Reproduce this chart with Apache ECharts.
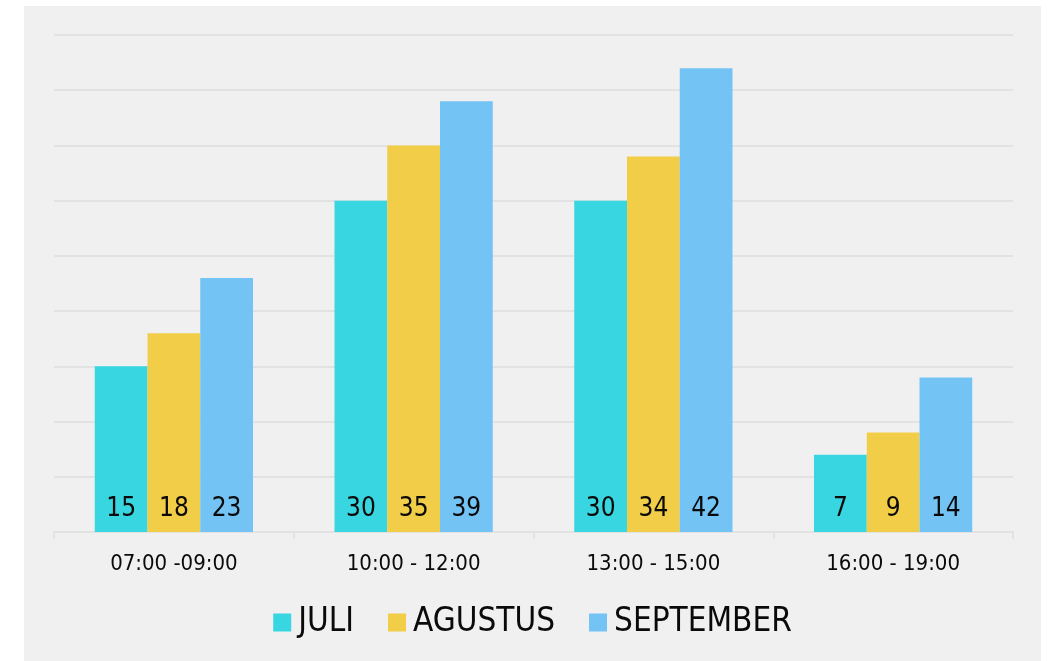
<!DOCTYPE html>
<html>
<head>
<meta charset="utf-8">
<script src="https://cdn.jsdelivr.net/npm/echarts@6/dist/echarts.min.js"></script>
<style>
	html, body { margin: 0; padding: 0; background: #fff; }
	#chart { position: absolute; left: 24px; top: 6px; width: 1017px; height: 655px; background: #f0f0f0; }
</style>
</head>
<body>
<div id="chart"></div>
<script>
const categories = ['07:00 -09:00', '10:00 - 12:00', '13:00 - 15:00', '16:00 - 19:00'];
const juli = [15, 30, 30, 7];
const agustus = [18, 35, 34, 9];
const september = [23, 39, 42, 14];

const condensed = '"DejaVu Sans Condensed", "DejaVu Sans", sans-serif';
const narrow = '"Liberation Sans Narrow", "DejaVu Sans Condensed", sans-serif';

const myChart = echarts.init(document.getElementById('chart'));

function barSeries(name, data, color) {
	return {
		name: name,
		type: 'bar',
		data: data,
		barGap: 0,
		barCategoryGap: '34%',
		itemStyle: { color: color },
		label: {
			show: true,
			position: 'insideBottom',
			distance: 10,
			color: '#0a0a0a',
			fontSize: 26,
			fontFamily: narrow
		}
	};
}

myChart.setOption({
	backgroundColor: '#f0f0f0',
	animation: false,
	grid: { left: 30, right: 28, top: 29, bottom: 129 },
	legend: {
		bottom: 17,
		itemWidth: 18,
		itemHeight: 18,
		itemGap: 34,
		icon: 'rect',
		textStyle: { fontSize: 33, color: '#0a0a0a', fontFamily: narrow, padding: [0, 0, 0, 2] },
		data: ['JULI', 'AGUSTUS', 'SEPTEMBER']
	},
	xAxis: {
		type: 'category',
		data: categories,
		axisLine: { lineStyle: { color: '#e2e2e2', width: 2 } },
		axisTick: { show: true, length: 7, lineStyle: { color: '#e2e2e2', width: 2 } },
		axisLabel: { fontSize: 22, color: '#0a0a0a', fontFamily: condensed, margin: 21 }
	},
	yAxis: {
		type: 'value',
		min: 0,
		max: 45,
		interval: 5,
		axisLabel: { show: false },
		axisLine: { show: false },
		axisTick: { show: false },
		splitLine: { lineStyle: { color: '#e2e2e2', width: 2 } }
	},
	series: [
		barSeries('JULI', juli, '#38d6e0'),
		barSeries('AGUSTUS', agustus, '#f2cd47'),
		barSeries('SEPTEMBER', september, '#74c3f5')
	]
});
</script>
</body>
</html>
